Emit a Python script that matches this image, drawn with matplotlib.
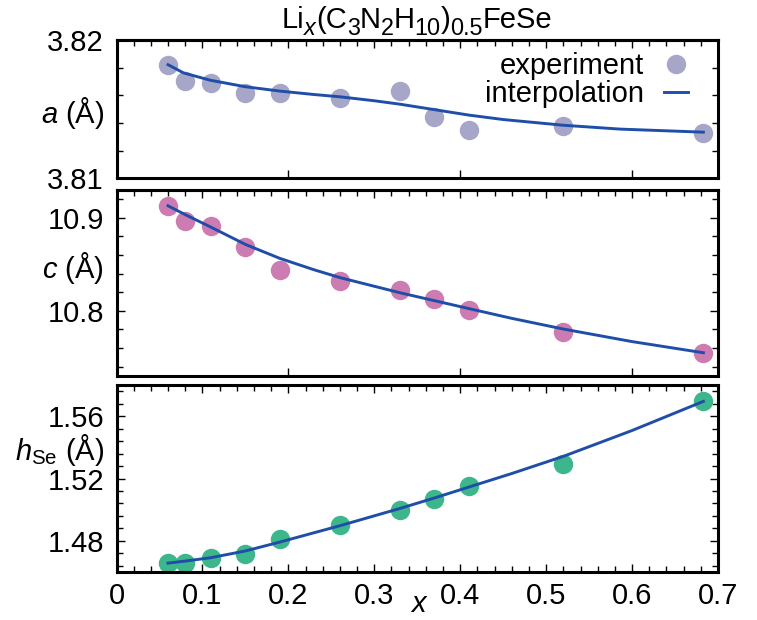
import matplotlib
matplotlib.use("Agg")
import matplotlib.pyplot as plt
from matplotlib.ticker import MultipleLocator, FixedLocator, NullFormatter, NullLocator
from matplotlib.lines import Line2D

plt.rcParams['font.family'] = ['Liberation Sans', 'DejaVu Sans']
plt.rcParams['mathtext.fontset'] = 'custom'
plt.rcParams['mathtext.rm'] = 'Liberation Sans'
plt.rcParams['mathtext.it'] = 'Liberation Sans:italic'
plt.rcParams['mathtext.bf'] = 'Liberation Sans:bold'

# Li content of the samples
x_exp = [0.06, 0.08, 0.11, 0.15, 0.19, 0.26, 0.33, 0.37, 0.41, 0.52, 0.683]
# measured lattice parameters and Se height (Å)
a_exp = [3.8182, 3.8170, 3.8169, 3.8162, 3.8162, 3.8158, 3.8163, 3.8144, 3.8135, 3.8138, 3.8133]
c_exp = [10.9132, 10.8964, 10.8910, 10.8685, 10.8443, 10.8321, 10.8229, 10.8133, 10.8008, 10.7775, 10.7550]
h_exp = [1.4657, 1.4657, 1.4689, 1.4716, 1.4811, 1.4901, 1.5000, 1.5070, 1.5150, 1.5295, 1.5695]

# interpolation curves
x_a_fit = [0.06, 0.078, 0.109, 0.15, 0.19, 0.23, 0.26, 0.30, 0.33, 0.37, 0.41, 0.45, 0.52, 0.586, 0.683]
a_fit = [3.818214, 3.817621, 3.817093, 3.816621, 3.816307, 3.816057, 3.815893, 3.815607,
         3.815357, 3.814964, 3.814571, 3.814250, 3.813836, 3.813557, 3.813336]
x_c_fit = [0.06, 0.08, 0.11, 0.15, 0.19, 0.23, 0.26, 0.33, 0.37, 0.41, 0.46, 0.52, 0.60, 0.683]
c_fit = [10.9130, 10.9035, 10.8900, 10.8715, 10.8565, 10.8442, 10.8358, 10.8195, 10.8110,
         10.8025, 10.7920, 10.7805, 10.7670, 10.7550]
x_h_fit = [0.06, 0.08, 0.11, 0.15, 0.19, 0.26, 0.33, 0.37, 0.41, 0.46, 0.52, 0.60, 0.683]
h_fit = [1.4657, 1.4670, 1.4692, 1.4735, 1.4792, 1.4897, 1.5008, 1.5075, 1.5145, 1.5232,
         1.5342, 1.5508, 1.5695]

x_ticks = [0, 0.1, 0.2, 0.3, 0.4, 0.5, 0.6, 0.7]
x_tick_labels = ['0', '0.1', '0.2', '0.3', '0.4', '0.5', '0.6', '0.7']

# formula pieces: (text, subscript, italic)
title_pieces = [("Li", False, False), ("x", True, True), ("(C", False, False), ("3", True, False),
                ("N", False, False), ("2", True, False), ("H", False, False), ("10", True, False),
                (")", False, False), ("0.5", True, False), ("FeSe", False, False)]
legend_labels = ['experiment', 'interpolation']

col_a = '#a6a6c9'
col_c = '#cc7cb1'
col_h = '#3db68c'
col_fit = '#1f4ea8'

FS = 21
W, H = 757, 620
fig = plt.figure(figsize=(W / 100, H / 100), dpi=100)

left = 116.5 / W
width = (718 - 116.5) / W


def panel(top_px, bot_px):
    return fig.add_axes([left, (H - bot_px) / H, width, (bot_px - top_px) / H])


ax_a = panel(40, 178.3)
ax_c = panel(190, 376)
ax_h = panel(385, 572)

panels = [
    (ax_a, a_exp, x_a_fit, a_fit, col_a, (3.81, 3.82), [3.81, 3.82], 0.002, '%.2f', r'$a$ (Å)', 0.47),
    (ax_c, c_exp, x_c_fit, c_fit, col_c, (10.73, 10.93), [10.8, 10.9], 0.02, '%.1f', r'$c$ (Å)', 0.58),
    (ax_h, h_exp, x_h_fit, h_fit, col_h, (1.46, 1.58), [1.48, 1.52, 1.56], 0.008, '%.2f',
     r'$h_{\mathrm{Se}}$ (Å)', 0.655),
]

for i, (ax, yexp, xf, yf, col, ylim, ymaj, ymin_step, fmt, ylab, ylab_y) in enumerate(panels):
    ax.plot(x_exp, yexp, 'o', color=col, markersize=14, markeredgewidth=0, zorder=2, clip_on=False)
    ax.plot(xf, yf, '-', color=col_fit, linewidth=2.1, zorder=3)
    ax.set_xlim(0, 0.7)
    ax.set_ylim(*ylim)
    for sp in ax.spines.values():
        sp.set_linewidth(2.2)
    ax.yaxis.set_major_locator(FixedLocator(ymaj))
    ax.yaxis.set_minor_locator(MultipleLocator(ymin_step))
    ax.set_yticklabels([fmt % v for v in ymaj])
    ax.tick_params(axis='y', which='both', direction='in', left=True, right=True,
                   labelsize=FS, pad=9)
    ax.tick_params(axis='y', which='major', length=6, width=1.0)
    ax.tick_params(axis='y', which='minor', length=4, width=1.0)
    ax.text(-0.0208, ylab_y, ylab, transform=ax.transAxes, ha='right', va='center', fontsize=FS)

    if i < 2:
        # bottom edge: sparse marks only
        ax.xaxis.set_major_locator(FixedLocator([0.2, 0.4, 0.6]))
        ax.xaxis.set_minor_locator(NullLocator())
        ax.tick_params(axis='x', which='both', direction='in', bottom=True, top=False,
                       labelbottom=False, length=6, width=1.0)
        sec = ax.secondary_xaxis('top')
        sec.xaxis.set_major_locator(MultipleLocator(0.1))
        sec.xaxis.set_minor_locator(MultipleLocator(0.02))
        sec.xaxis.set_major_formatter(NullFormatter())
        sec.tick_params(axis='x', which='both', direction='in', labeltop=False)
        sec.tick_params(axis='x', which='major', length=6, width=1.0)
        sec.tick_params(axis='x', which='minor', length=4, width=1.0)
        sec.spines['top'].set_linewidth(2.2)
    else:
        ax.xaxis.set_major_locator(FixedLocator(x_ticks))
        ax.set_xticklabels(x_tick_labels)
        ax.xaxis.set_minor_locator(MultipleLocator(0.02))
        ax.tick_params(axis='x', which='both', direction='in', bottom=True, top=True,
                       labelsize=FS, pad=7)
        ax.tick_params(axis='x', which='major', length=6, width=1.0)
        ax.tick_params(axis='x', which='minor', length=4, width=1.0)

handles = [
    Line2D([], [], linestyle='none', marker='o', color=col_a, markersize=14, markeredgewidth=0),
    Line2D([], [], linestyle='-', color=col_fit, linewidth=2.1),
]
ax_a.legend(handles, legend_labels, loc='upper right', bbox_to_anchor=(0.964, 0.975),
            frameon=False, fontsize=FS, markerfirst=False, handlelength=0.8,
            handletextpad=0.7, borderaxespad=0.0, labelspacing=0.01, borderpad=0.3)

# title: formula laid out piece by piece with enhanced-style subscripts
renderer = fig.canvas.get_renderer()
em_px = FS * 100 / 72
base_y = H - 28
sub_size = FS * 0.8
sub_drop = 0.25 * em_px
texts = []
for s, is_sub, is_it in title_pieces:
    t = fig.text(0, 0, s, fontsize=sub_size if is_sub else FS,
                 style='italic' if is_it else 'normal', ha='left', va='baseline',
                 transform=None)
    texts.append((t, is_sub))
widths = [t.get_window_extent(renderer).width for t, _ in texts]
x0 = 417 - sum(widths) / 2
for (t, is_sub), w in zip(texts, widths):
    t.set_position((x0, base_y - (sub_drop if is_sub else 0)))
    x0 += w

fig.text(419 / W, 1.5 / H, r'$x$', ha='center', va='bottom', fontsize=FS)

fig.savefig('out.png', dpi=100)
